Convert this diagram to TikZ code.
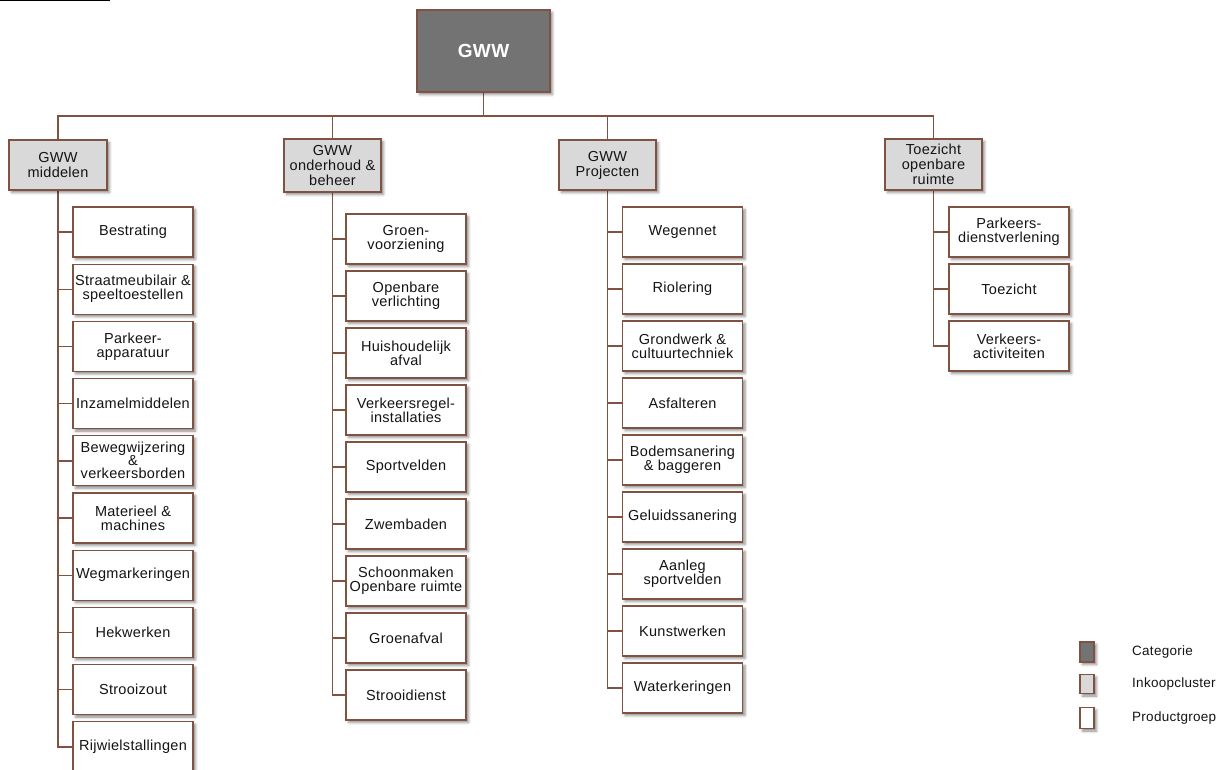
\documentclass[tikz,border=0pt]{standalone}
\usepackage{fontspec}
\setmainfont{Liberation Sans}[LetterSpace=2]
\usetikzlibrary{shadows.blur}
\pgfdeclarelayer{background}
\pgfsetlayers{background,main}
\definecolor{brn}{RGB}{128,82,66}
\definecolor{catfill}{RGB}{115,115,115}
\definecolor{clfill}{RGB}{217,217,217}
\definecolor{txt}{RGB}{20,20,20}
\begin{document}
\begin{tikzpicture}[x=1pt,y=-1pt,
 shad/.style={blur shadow={shadow xshift=2.5pt,shadow yshift=-2.5pt,shadow blur radius=2.5pt,shadow opacity=45}},
 base/.style={draw=brn,line width=1.1pt,align=center,inner sep=1pt,font=\fontsize{14.5}{15}\selectfont,text=txt,shad},
 catbox/.style={base,fill=catfill,minimum width=133pt,minimum height=82pt,text=white,font=\fontsize{19}{20}\selectfont\bfseries},
 clbox/.style={base,fill=clfill,minimum width=97pt,minimum height=51pt},
 prbox/.style={base,fill=white,minimum width=120pt,minimum height=50pt,font=\fontsize{14.5}{14}\selectfont},
 conn/.style={draw=brn,line width=1.4pt},
 legsq/.style={draw=brn,line width=1.1pt,minimum width=14pt,minimum height=20pt,inner sep=0pt,shad},
 legtx/.style={anchor=west,font=\fontsize{13.5}{15}\selectfont,text=txt,inner sep=0pt}]
\useasboundingbox (0,0) rectangle (1223,769);
\draw[black,line width=1pt] (0,0.5) -- (110,0.5);

% top
\node[catbox] (gww) at (483.5,51) {GWW};
\coordinate (bus) at (483.5,116);

% clusters
\node[clbox,minimum width=98pt,minimum height=50pt] (c1) at (58,165) {GWW\\middelen};
\node[clbox,minimum height=53pt] (c2) at (332.5,165.5) {GWW\\onderhoud \&\\beheer};
\node[clbox,minimum height=50pt] (c3) at (607.5,165) {GWW\\Projecten};
\node[clbox,minimum height=51pt] (c4) at (933.5,164.5) {Toezicht\\openbare\\ruimte};

% column 1
\foreach \t [count=\i from 0] in {Bestrating,{Straatmeubilair \&\\speeltoestellen},{Parkeer-\\apparatuur},Inzamelmiddelen,{Bewegwijzering\\[-1pt]\&\\[-1pt]verkeersborden},{Materieel \&\\machines},Wegmarkeringen,Hekwerken,Strooizout,Rijwielstallingen}
  \node[prbox] (a\i) at (133,232+57.2*\i) {\t};
% column 2
\foreach \t [count=\i from 0] in {{Groen-\\voorziening},{Openbare\\verlichting},{Huishoudelijk\\afval},{Verkeersregel-\\installaties},Sportvelden,Zwembaden,{Schoonmaken\\Openbare ruimte},Groenafval,Strooidienst}
  \node[prbox] (b\i) at (406,239+57*\i) {\t};
% column 3
\foreach \t [count=\i from 0] in {Wegennet,Riolering,{Grondwerk \&\\cultuurtechniek},Asfalteren,{Bodemsanering\\\& baggeren},Geluidssanering,{Aanleg\\sportvelden},Kunstwerken,Waterkeringen}
  \node[prbox] (p\i) at (682.5,232+57*\i) {\t};
% column 4
\foreach \t [count=\i from 0] in {{Parkeers-\\dienstverlening},Toezicht,{Verkeers-\\activiteiten}}
  \node[prbox] (t\i) at (1009,232+57*\i) {\t};

% legend
\node[legsq,fill=catfill] (l1) at (1087,652) {};
\node[legsq,fill=clfill,minimum height=19pt] (l2) at (1087,684) {};
\node[legsq,fill=white,minimum height=21pt] (l3) at (1087,718) {};
\node[legtx] (lt1) at (1132,652) {Categorie};
\node[legtx] (lt2) at (1132,684) {Inkoopcluster};
\node[legtx] (lt3) at (1132,718) {Productgroep};

\begin{pgfonlayer}{background}
\draw[conn] (gww.south) -- (bus);
\foreach \c in {c1,c2,c3,c4} \draw[conn] (bus) -| (\c.north);
\foreach \i in {0,...,9} \draw[conn] (c1.south) |- (a\i.west);
\foreach \i in {0,...,8} \draw[conn] (c2.south) |- (b\i.west);
\foreach \i in {0,...,8} \draw[conn] (c3.south) |- (p\i.west);
\foreach \i in {0,...,2} \draw[conn] (c4.south) |- (t\i.west);
\end{pgfonlayer}
\end{tikzpicture}
\end{document}
